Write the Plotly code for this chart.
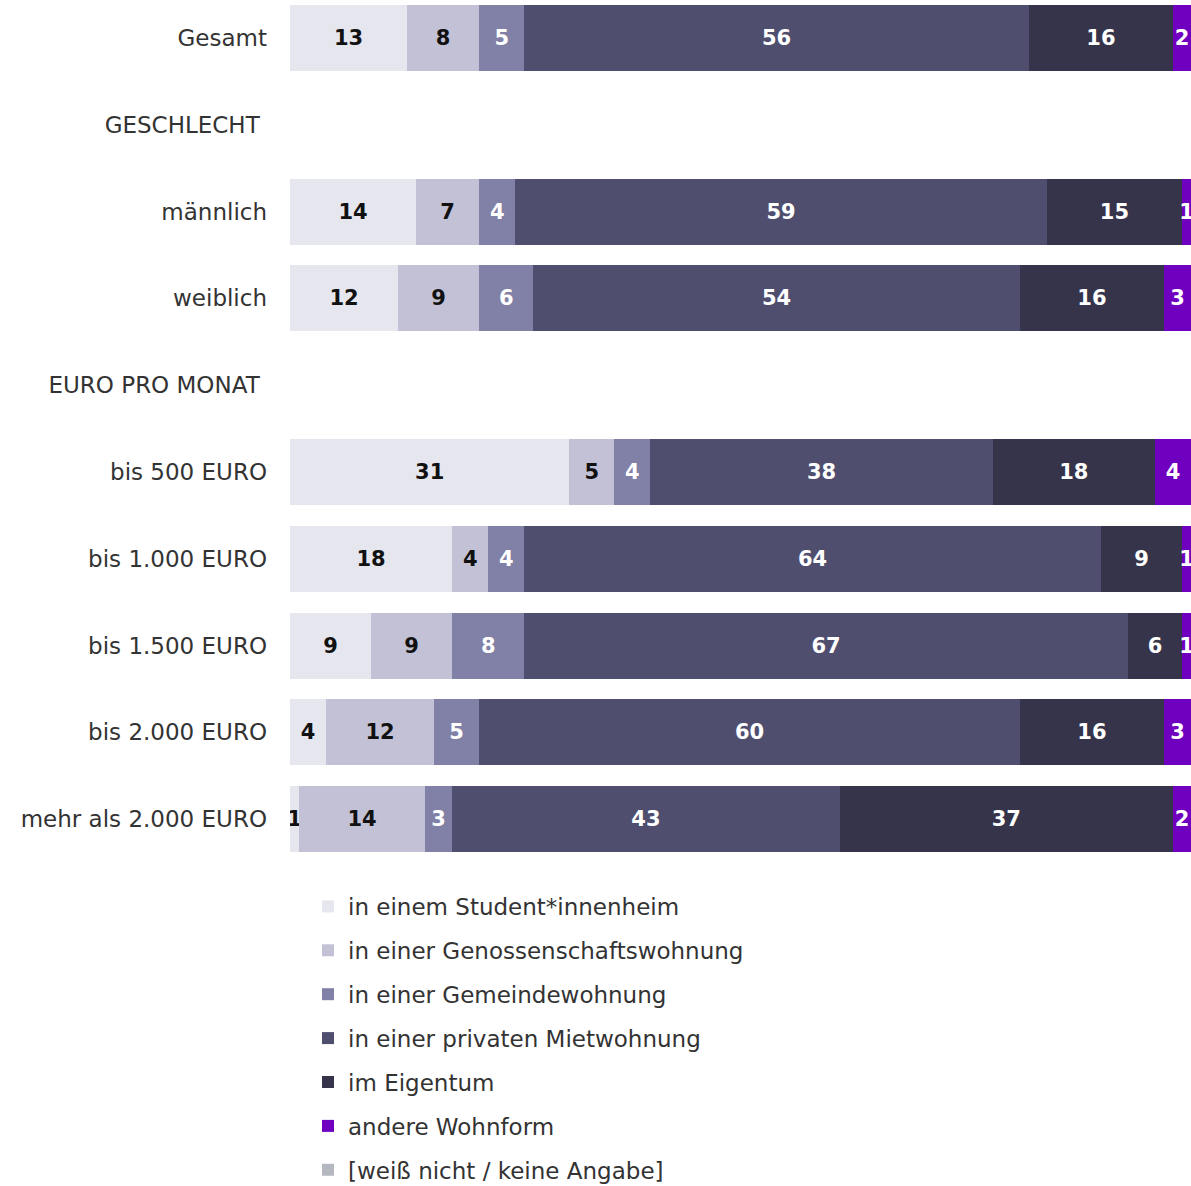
import plotly.graph_objects as go

categories = ["Gesamt", "GESCHLECHT", "männlich", "weiblich", "EURO PRO MONAT",
              "bis 500 EURO", "bis 1.000 EURO", "bis 1.500 EURO", "bis 2.000 EURO",
              "mehr als 2.000 EURO"]
tick_labels = ["Gesamt", "GESCHLECHT\u00a0", "männlich", "weiblich", "EURO PRO MONAT\u00a0",
               "bis 500 EURO", "bis 1.000 EURO", "bis 1.500 EURO", "bis 2.000 EURO",
               "mehr als 2.000 EURO"]

series_names = ["in einem Student*innenheim", "in einer Genossenschaftswohnung",
                "in einer Gemeindewohnung", "in einer privaten Mietwohnung",
                "im Eigentum", "andere Wohnform", "[weiß nicht / keine Angabe]"]

studentenheim = [13, None, 14, 12, None, 31, 18, 9, 4, 1]
genossenschaft = [8, None, 7, 9, None, 5, 4, 9, 12, 14]
gemeinde = [5, None, 4, 6, None, 4, 4, 8, 5, 3]
privat = [56, None, 59, 54, None, 38, 64, 67, 60, 43]
eigentum = [16, None, 15, 16, None, 18, 9, 6, 16, 37]
andere = [2, None, 1, 3, None, 4, 1, 1, 3, 2]
weiss_nicht = [None, None, None, None, None, None, None, None, None, None]

series_values = [studentenheim, genossenschaft, gemeinde, privat, eigentum, andere, weiss_nicht]
colors = ["#e6e6ee", "#c2c1d5", "#8180a6", "#4f4e6f", "#35344a", "#7000c0", "#b5b8c0"]
text_colors = ["#111111", "#111111", "#ffffff", "#ffffff", "#ffffff", "#ffffff", "#ffffff"]

FONT = "DejaVu Sans"

fig = go.Figure()
for i, (name, vals) in enumerate(zip(series_names, series_values)):
    fig.add_trace(go.Bar(
        y=categories, x=vals, name=name, orientation="h",
        marker=dict(color=colors[i], line=dict(width=0)),
        text=[("" if v is None else str(v)) for v in vals],
        textposition="inside", insidetextanchor="middle",
        textfont=dict(family=FONT, size=21, color=text_colors[i], weight="bold"),
        legendgroup=name,
        hoverinfo="skip",
    ))

fig.update_layout(
    barmode="stack",
    bargap=0.24,
    width=1191, height=1186,
    margin=dict(l=290, r=0, t=0, b=326, autoexpand=False),
    plot_bgcolor="white", paper_bgcolor="white",
    uniformtext=dict(mode="show", minsize=21),
    font=dict(family=FONT, size=23, color="#333333"),
    xaxis=dict(range=[0, 100], visible=False, fixedrange=True),
    yaxis=dict(categoryorder="array", categoryarray=categories,
               tickmode="array", tickvals=categories, ticktext=tick_labels,
               range=[9.47, -0.438], showgrid=False, zeroline=False,
               showline=False, ticks="", ticklabelstandoff=22, fixedrange=True,
               tickfont=dict(family=FONT, size=23, color="#333333")),
    showlegend=True,
    legend=dict(x=0.02, y=-0.029, xanchor="left", yanchor="top",
                orientation="v", traceorder="grouped", tracegroupgap=11,
                font=dict(family=FONT, size=23, color="#333333"),
                itemwidth=30, bgcolor="rgba(0,0,0,0)", maxheight=500),
)

fig.write_html("out.html", config={"displayModeBar": False},
               post_script="document.body.style.margin='0px';document.body.style.padding='0px';")
